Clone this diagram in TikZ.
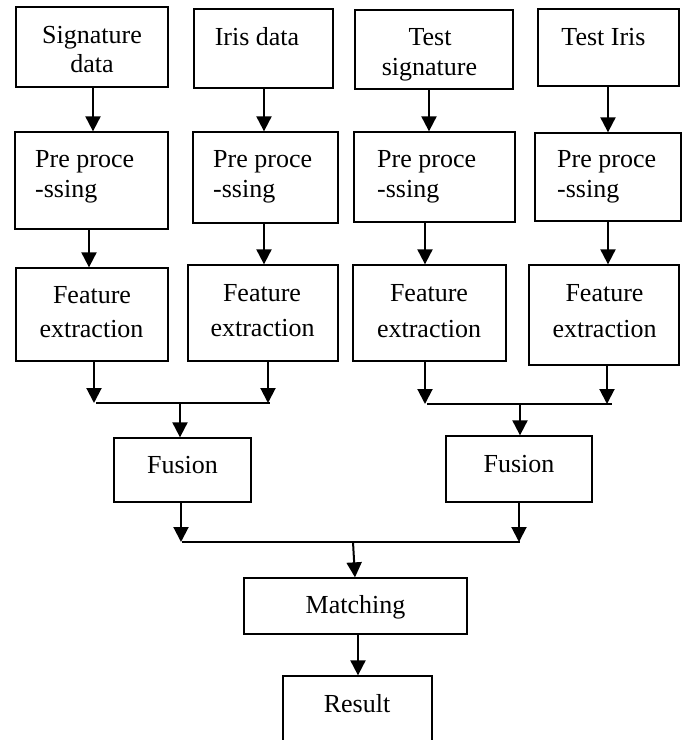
\documentclass[tikz,border=0pt]{standalone}
\usepackage{fontspec}
\setmainfont{Liberation Serif}
\usetikzlibrary{arrows.meta}
\begin{document}
\begin{tikzpicture}[x=1pt,y=-1pt,
  box/.style={draw=black,line width=1.3pt,rectangle,inner sep=0pt},
  txt/.style={inner sep=0pt,font=\fontsize{26}{30}\selectfont},
  arr/.style={line width=2pt,-{Triangle[length=15pt,width=15pt]}},
  joinline/.style={line width=1.4pt}]
\useasboundingbox (0,0) rectangle (683,740);
\clip (0,0) rectangle (683,740);
\fill[white] (0,0) rectangle (683,740);
% input boxes
\node[box,minimum width=152pt,minimum height=80pt] (sig) at (92,47) {};
\node[box,minimum width=139pt,minimum height=79pt] (iris) at (263.5,48.5) {};
\node[box,minimum width=158pt,minimum height=79pt] (tsig) at (434,49.5) {};
\node[box,minimum width=141pt,minimum height=77pt] (tiris) at (608.5,47.5) {};
% preprocessing
\node[box,minimum width=153pt,minimum height=97pt] (pre1) at (91.5,180.5) {};
\node[box,minimum width=145pt,minimum height=91pt] (pre2) at (265.5,177.5) {};
\node[box,minimum width=161pt,minimum height=90pt] (pre3) at (434.5,177) {};
\node[box,minimum width=146pt,minimum height=88pt] (pre4) at (608,177) {};
% feature extraction
\node[box,minimum width=152pt,minimum height=93pt] (fe1) at (92,314.5) {};
\node[box,minimum width=150pt,minimum height=96pt] (fe2) at (263,313) {};
\node[box,minimum width=153pt,minimum height=96pt] (fe3) at (429.5,313) {};
\node[box,minimum width=150pt,minimum height=100pt] (fe4) at (604,315) {};
% fusion
\node[box,minimum width=137pt,minimum height=64pt] (fus1) at (182.5,470) {};
\node[box,minimum width=146pt,minimum height=66pt] (fus2) at (519,469) {};
% matching and result
\node[box,minimum width=223pt,minimum height=56pt] (match) at (355.5,606) {};
\node[box,minimum width=149pt,minimum height=84pt] (res) at (357.5,718) {};

% texts
\node[txt,anchor=base] (sigA) at (92,43) {Signature};
\node[txt,anchor=base] (sigB) at (92,72) {data};
\node[txt,anchor=base] (irisA) at (257,45) {Iris data};
\node[txt,anchor=base] (tsigA) at (430,45) {Test};
\node[txt,anchor=base] (tsigB) at (429.5,75) {signature};
\node[txt,anchor=base] (tirisA) at (603.5,45) {Test Iris};
\node[txt,anchor=base west] (pre1A) at (35,167) {Pre proce};
\node[txt,anchor=base west] (pre1B) at (35,197) {-ssing};
\node[txt,anchor=base west] (pre2A) at (213,167) {Pre proce};
\node[txt,anchor=base west] (pre2B) at (213,197) {-ssing};
\node[txt,anchor=base west] (pre3A) at (377,167) {Pre proce};
\node[txt,anchor=base west] (pre3B) at (377,197) {-ssing};
\node[txt,anchor=base west] (pre4A) at (557,167) {Pre proce};
\node[txt,anchor=base west] (pre4B) at (557,197) {-ssing};
\node[txt,anchor=base] (fe1A) at (92,303) {Feature};
\node[txt,anchor=base] (fe1B) at (91.5,337) {extraction};
\node[txt,anchor=base] (fe2A) at (262,301) {Feature};
\node[txt,anchor=base] (fe2B) at (262.5,336) {extraction};
\node[txt,anchor=base] (fe3A) at (429,301) {Feature};
\node[txt,anchor=base] (fe3B) at (429,337) {extraction};
\node[txt,anchor=base] (fe4A) at (604.5,301) {Feature};
\node[txt,anchor=base] (fe4B) at (604.5,337) {extraction};
\node[txt,anchor=base] (fus1A) at (182.5,473) {Fusion};
\node[txt,anchor=base] (fus2A) at (519,472) {Fusion};
\node[txt,anchor=base] (matchA) at (355.5,613) {Matching};
\node[txt,anchor=base] (resA) at (357,712) {Result};

% junction coordinates
\coordinate (j1a) at (94,403);
\coordinate (j1b) at (268,403);
\coordinate (j1c) at (180,403);
\coordinate (j2a) at (425,404);
\coordinate (j2b) at (607,404);
\coordinate (j2c) at (520,404);
\coordinate (j3a) at (181,542);
\coordinate (j3b) at (519,542);
\coordinate (j3c) at (353,542);

% arrows between stages
\draw[arr] (sig.south -| 93,0) -- (pre1.north -| 93,0);
\draw[arr] (iris.south -| 264,0) -- (pre2.north -| 264,0);
\draw[arr] (tsig.south -| 429,0) -- (pre3.north -| 429,0);
\draw[arr] (tiris.south -| 608,0) -- (pre4.north -| 608,0);
\draw[arr] (pre1.south -| 89,0) -- (fe1.north -| 89,0);
\draw[arr] (pre2.south -| 264,0) -- (fe2.north -| 264,0);
\draw[arr] (pre3.south -| 425,0) -- (fe3.north -| 425,0);
\draw[arr] (pre4.south -| 608,0) -- (fe4.north -| 608,0);
% to fusion
\draw[arr] (fe1.south -| j1a) -- (j1a);
\draw[arr] (fe2.south -| j1b) -- (j1b);
\draw[joinline] ([xshift=2pt]j1a) -- ([xshift=2pt]j1b);
\draw[arr] (j1c) -- (fus1.north -| j1c);
\draw[arr] (fe3.south -| j2a) -- (j2a);
\draw[arr] (fe4.south -| j2b) -- (j2b);
\draw[joinline] ([xshift=2pt]j2a) -- ([xshift=5pt]j2b);
\draw[arr] (j2c) -- (fus2.north -| j2c);
% to matching
\draw[arr] (fus1.south -| j3a) -- (j3a);
\draw[arr] (fus2.south -| j3b) -- (j3b);
\draw[joinline] ([xshift=1pt]j3a) -- ([xshift=1pt]j3b);
\draw[arr] (j3c) -- (match.north -| 355,0);
\draw[arr] (match.south -| 358,0) -- (res.north -| 358,0);
\end{tikzpicture}
\end{document}
